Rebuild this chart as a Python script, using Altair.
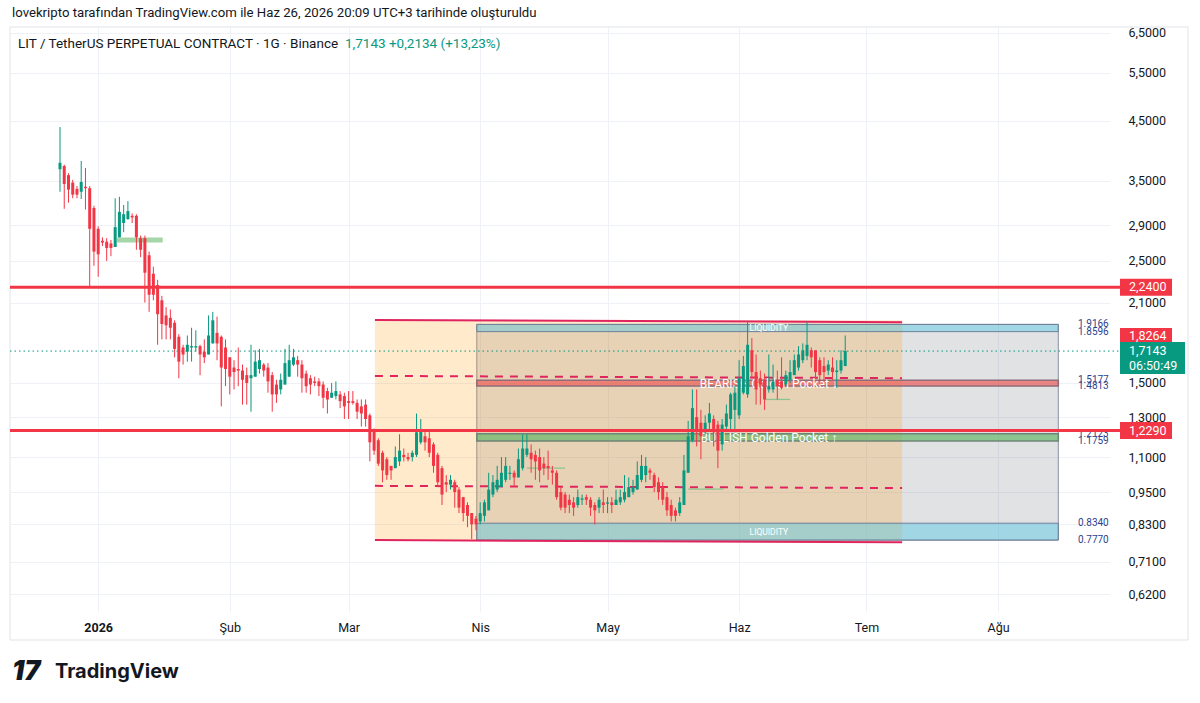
import math
import altair as alt
import pandas as pd

# ---------------- data ----------------
first_day = -9  # Dec 23, 2025 (days counted from Jan 1, 2026)
opens = [3.67, 3.72, 3.58, 3.47, 3.38, 3.34, 3.41, 3.39, 3.12, 2.86,
         2.72, 2.71, 2.69, 2.65, 2.76, 2.93, 2.98, 3.02, 3.02, 2.75,
         2.75, 2.56, 2.37, 2.26, 2.12, 1.99, 1.97, 1.93, 1.82, 1.74,
         1.71, 1.74, 1.74, 1.75, 1.71, 1.69, 1.77, 1.85, 1.82, 1.74,
         1.67, 1.60, 1.59, 1.58, 1.55, 1.53, 1.54, 1.59, 1.62, 1.60,
         1.55, 1.49, 1.46, 1.49, 1.54, 1.62, 1.65, 1.62, 1.56, 1.53,
         1.51, 1.51, 1.49, 1.45, 1.41, 1.42, 1.43, 1.42, 1.39, 1.39,
         1.38, 1.36, 1.37,
         1.31, 1.23, 1.18, 1.12, 1.09, 1.06, 1.05, 1.08, 1.11, 1.10,
         1.10, 1.11, 1.17, 1.20, 1.19, 1.16, 1.11, 1.05, 0.99, 0.98,
         0.99, 0.96, 0.93, 0.90, 0.87, 0.85, 0.84, 0.86, 0.88, 0.94,
         0.96, 0.97, 1.00, 1.025, 1.03, 1.01, 1.05, 1.11, 1.12, 1.11,
         1.10, 1.07, 1.06, 1.04, 1.03, 0.95, 0.94, 0.92, 0.91, 0.90,
         0.92, 0.93, 0.92, 0.90, 0.89, 0.91, 0.905, 0.91, 0.90, 0.91,
         0.92, 0.93, 0.95, 0.96, 1.00, 1.02, 1.04, 1.02, 0.99, 0.97,
         0.93, 0.90, 0.88, 0.87, 0.90, 1.03, 1.18, 1.30, 1.27, 1.22,
         1.27, 1.29, 1.26, 1.16, 1.25, 1.29, 1.34, 1.31, 1.44, 1.43,
         1.72, 1.57, 1.53, 1.52, 1.46, 1.46, 1.52, 1.51, 1.49, 1.52,
         1.55, 1.60, 1.65, 1.68, 1.72, 1.72, 1.65, 1.61, 1.58, 1.60,
         1.57, 1.58, 1.61]
highs = [4.38, 3.74, 3.61, 3.51, 3.42, 3.80, 3.69, 3.42, 3.15, 2.89,
         2.76, 2.75, 2.73, 3.25, 3.27, 3.16, 3.21, 3.05, 3.04, 2.78,
         2.78, 2.60, 2.44, 2.31, 2.16, 2.06, 2.04, 1.95, 1.84, 1.76,
         1.83, 1.89, 1.87, 1.76, 1.80, 1.99, 2.02, 1.98, 1.83, 1.80,
         1.67, 1.65, 1.74, 1.62, 1.60, 1.76, 1.72, 1.73, 1.63, 1.63,
         1.57, 1.52, 1.56, 1.73, 1.76, 1.73, 1.68, 1.65, 1.58, 1.55,
         1.54, 1.53, 1.51, 1.47, 1.50, 1.51, 1.45, 1.44, 1.45, 1.45,
         1.40, 1.40, 1.40,
         1.32, 1.24, 1.19, 1.13, 1.10, 1.06, 1.15, 1.21, 1.14, 1.12,
         1.13, 1.32, 1.29, 1.23, 1.23, 1.17, 1.12, 1.06, 1.02, 1.02,
         1.00, 0.97, 0.93, 0.91, 0.87, 0.86, 0.91, 0.92, 1.03, 1.02,
         1.06, 1.10, 1.10, 1.06, 1.04, 1.14, 1.21, 1.21, 1.16, 1.13,
         1.14, 1.10, 1.13, 1.06, 1.04, 0.97, 0.95, 0.94, 0.93, 0.96,
         0.94, 0.94, 0.93, 0.91, 0.93, 0.96, 0.93, 0.93, 0.96, 0.96,
         1.02, 1.01, 1.00, 1.08, 1.11, 1.10, 1.05, 1.03, 1.01, 0.99,
         0.95, 0.92, 0.89, 0.93, 1.11, 1.28, 1.46, 1.46, 1.34, 1.31,
         1.38, 1.31, 1.28, 1.29, 1.37, 1.44, 1.48, 1.65, 1.68, 1.94,
         1.81, 1.69, 1.58, 1.56, 1.69, 1.62, 1.58, 1.67, 1.58, 1.65,
         1.69, 1.75, 1.77, 1.94, 1.74, 1.72, 1.67, 1.67, 1.65, 1.67,
         1.65, 1.72, 1.83]
lows = [3.34, 3.11, 3.19, 3.25, 3.25, 3.24, 3.10, 2.24, 2.45, 2.34,
        2.66, 2.50, 2.55, 2.65, 2.76, 2.82, 2.97, 2.93, 2.62, 2.54,
        2.10, 2.02, 2.12, 1.76, 1.80, 1.80, 1.80, 1.67, 1.53, 1.62,
        1.64, 1.64, 1.71, 1.55, 1.63, 1.69, 1.77, 1.65, 1.36, 1.48,
        1.43, 1.46, 1.48, 1.37, 1.37, 1.33, 1.54, 1.56, 1.54, 1.44,
        1.33, 1.38, 1.43, 1.49, 1.54, 1.61, 1.54, 1.44, 1.44, 1.43,
        1.48, 1.42, 1.35, 1.32, 1.41, 1.40, 1.35, 1.29, 1.29, 1.37,
        1.29, 1.25, 1.25,
        1.08, 1.11, 1.06, 0.99, 1.00, 1.00, 1.05, 1.06, 1.08, 1.08,
        1.08, 1.10, 1.16, 1.13, 1.10, 1.03, 0.97, 0.90, 0.95, 0.96,
        0.89, 0.87, 0.84, 0.82, 0.78, 0.81, 0.83, 0.84, 0.88, 0.93,
        0.95, 0.97, 0.99, 1.00, 0.97, 1.01, 1.04, 1.10, 1.03, 1.00,
        0.99, 1.02, 1.00, 0.98, 0.92, 0.88, 0.87, 0.87, 0.86, 0.89,
        0.90, 0.90, 0.86, 0.83, 0.87, 0.87, 0.87, 0.87, 0.90, 0.90,
        0.91, 0.93, 0.94, 0.96, 0.99, 0.99, 1.00, 0.95, 0.92, 0.90,
        0.86, 0.84, 0.84, 0.86, 0.90, 1.03, 1.17, 1.15, 1.09, 1.21,
        1.23, 1.15, 1.05, 1.13, 1.23, 1.23, 1.22, 1.29, 1.43, 1.41,
        1.53, 1.37, 1.37, 1.34, 1.44, 1.44, 1.40, 1.46, 1.48, 1.50,
        1.55, 1.58, 1.63, 1.65, 1.60, 1.53, 1.49, 1.51, 1.55, 1.52,
        1.47, 1.56, 1.61]
closes = [3.77, 3.45, 3.37, 3.30, 3.30, 3.48, 3.39, 2.86, 2.60, 2.57,
          2.70, 2.64, 2.64, 2.88, 3.07, 3.04, 3.08, 3.00, 2.76, 2.62,
          2.38, 2.17, 2.17, 2.00, 1.92, 1.91, 1.89, 1.73, 1.64, 1.69,
          1.76, 1.75, 1.75, 1.69, 1.67, 1.83, 1.95, 1.77, 1.60, 1.59,
          1.54, 1.57, 1.58, 1.52, 1.50, 1.55, 1.64, 1.65, 1.58, 1.51,
          1.43, 1.43, 1.52, 1.63, 1.65, 1.67, 1.62, 1.53, 1.48, 1.49,
          1.50, 1.48, 1.41, 1.40, 1.44, 1.45, 1.39, 1.36, 1.38, 1.38,
          1.33, 1.32, 1.29,
          1.17, 1.13, 1.07, 1.04, 1.02, 1.04, 1.10, 1.13, 1.10, 1.09,
          1.12, 1.22, 1.23, 1.17, 1.12, 1.06, 0.99, 0.94, 0.98, 1.00,
          0.95, 0.89, 0.87, 0.86, 0.83, 0.83, 0.87, 0.91, 0.96, 0.99,
          1.00, 1.03, 1.06, 1.03, 1.01, 1.09, 1.14, 1.14, 1.09, 1.08,
          1.04, 1.05, 1.05, 1.03, 0.93, 0.89, 0.89, 0.90, 0.89, 0.93,
          0.925, 0.92, 0.89, 0.88, 0.92, 0.90, 0.91, 0.90, 0.92, 0.93,
          0.95, 0.97, 0.97, 1.02, 1.06, 1.06, 1.03, 0.97, 0.95, 0.92,
          0.88, 0.86, 0.86, 0.91, 1.04, 1.20, 1.35, 1.22, 1.20, 1.27,
          1.32, 1.22, 1.13, 1.26, 1.32, 1.43, 1.44, 1.53, 1.61, 1.76,
          1.57, 1.46, 1.49, 1.40, 1.48, 1.51, 1.48, 1.47, 1.55, 1.57,
          1.65, 1.69, 1.72, 1.76, 1.67, 1.57, 1.55, 1.57, 1.62, 1.57,
          1.58, 1.65, 1.7143]

month_ticks = [0, 31, 59, 90, 120, 151, 181, 212]
month_names = ["2026", "Şub", "Mar", "Nis", "May", "Haz", "Tem", "Ağu"]
price_ticks = [0.62, 0.71, 0.83, 0.95, 1.1, 1.3, 1.5, 2.1, 2.5, 2.9, 3.5, 4.5, 5.5, 6.5]

key_levels = [2.24, 1.229]
last_price = 1.7143
tag_high = 1.8264

orange_days = [65.2, 189.4]
orange_prices = [0.776, 1.95]
zone_days = [89.2, 226.2]
zone_prices = [0.777, 1.9166]
liq_top = [1.8596, 1.9166]
liq_bottom = [0.777, 0.834]
bear_pocket = [1.4813, 1.5177]
bull_pocket = [1.1759, 1.2123]
channel_top = [1.953, 1.935]
channel_bottom = [0.777, 0.770]
dash_upper = [1.545, 1.53]
dash_lower = [0.975, 0.966]
label_center_day = 158

green_zone_days = [4.4, 15.2]
green_zone_price = 2.73
thin_lines = [(101, 110, 1.05), (139, 147.3, 0.962), (157, 163, 1.40)]

zone_labels = ["1.9166", "1.8596", "1.5177", "1.4813", "1.2123", "1.1759", "0.8340", "0.7770"]
zone_label_prices = [1.9166, 1.8596, 1.5177, 1.4813, 1.2123, 1.1759, 0.834, 0.777]

# ---------------- scales / axes ----------------
XS = alt.Scale(domain=[-19.6, 237.2], nice=False, zero=False)
YS = alt.Scale(type="log", domain=[0.575, 6.657], nice=False)
FONT = "Roboto"
RED = "#f23645"
GREEN = "#089981"
CRIMSON = "#e0245e"

label_expr_x = ("[" + ",".join("'%s'" % m for m in month_names) + "][indexof(["
                + ",".join(str(t) for t in month_ticks) + "], datum.value)]")

X_AXIS = alt.Axis(values=month_ticks, labelExpr=label_expr_x, grid=True, gridColor="#eef1f6",
                  domain=False, ticks=False, labelPadding=9, labelFontSize=12.5, labelColor="#131722",
                  labelFont=FONT, title=None,
                  labelFontWeight={"condition": {"test": "datum.value === 0", "value": "bold"},
                                   "value": "normal"})
Y_AXIS = alt.Axis(orient="right", values=price_ticks,
                  labelExpr="replace(format(datum.value, '.4f'), '.', ',')",
                  grid=True, gridColor="#eef1f6", domain=False, ticks=False, labelAlign="left",
                  labelPadding=18, labelFontSize=12.5, labelColor="#131722", labelFont=FONT, title=None)


def X(f):
    return alt.X(f, type="quantitative", scale=XS, axis=X_AXIS)


def Y(f):
    return alt.Y(f, type="quantitative", scale=YS, axis=Y_AXIS)


candles = pd.DataFrame({
    "d": list(range(first_day, first_day + len(closes))),
    "o": opens, "h": highs, "l": lows, "c": closes,
})
candles["dir"] = ["up" if c >= o else "down" for o, c in zip(candles.o, candles.c)]
ccol = alt.Color("dir:N", scale=alt.Scale(domain=["up", "down"], range=[GREEN, RED]), legend=None)


def rect(x0, x1, y0, y1, **kw):
    df = pd.DataFrame({"x0": [x0], "x1": [x1], "y0": [y0], "y1": [y1]})
    return alt.Chart(df).mark_rect(**kw).encode(x=X("x0"), x2=alt.X2("x1"), y=Y("y0"), y2=alt.Y2("y1"))


def seg(x0, x1, y0, y1, **kw):
    df = pd.DataFrame({"x": [x0, x1], "y": [y0, y1]})
    return alt.Chart(df).mark_line(**kw).encode(x=X("x"), y=Y("y"))


def hline(price, x0, x1, **kw):
    df = pd.DataFrame({"p": [price]})
    return alt.Chart(df).mark_rule(**kw).encode(y=Y("p"), x=alt.value(x0), x2=alt.value(x1))


def ptext(text, day, price, **kw):
    df = pd.DataFrame({"t": [text], "d": [day], "p": [price]})
    return alt.Chart(df).mark_text(**kw).encode(x=X("d"), y=Y("p"), text="t:N")


def vtext(text, x, y, **kw):
    df = pd.DataFrame({"t": [text]})
    return alt.Chart(df).mark_text(**kw).encode(x=alt.value(x), y=alt.value(y), text="t:N")


layers = []
# candle layer first so the axes come from it
wicks = alt.Chart(candles).mark_rule(strokeWidth=1).encode(x=X("d"), y=Y("l"), y2=alt.Y2("h"), color=ccol)
bodies = alt.Chart(candles).mark_bar(size=3).encode(x=X("d"), y=Y("o"), y2=alt.Y2("c"), color=ccol)

# frame
layers.append(alt.Chart(pd.DataFrame({"t": [0]})).mark_rect(fill=None, stroke="#e0e3eb", strokeWidth=1).encode(
    x=alt.value(0), x2=alt.value(1178), y=alt.value(0), y2=alt.value(613)))

# boxes
layers.append(rect(zone_days[0], zone_days[1], zone_prices[0], zone_prices[1],
                   fill="#787b86", fillOpacity=0.22, stroke="#8a92a6", strokeWidth=1))
layers.append(rect(orange_days[0], orange_days[1], orange_prices[0], orange_prices[1],
                   fill="#ff9800", fillOpacity=0.2))
layers.append(rect(zone_days[0], zone_days[1], liq_top[0], liq_top[1],
                   fill="#55c9e4", fillOpacity=0.45, stroke="#6f7f99", strokeWidth=1))
layers.append(rect(zone_days[0], zone_days[1], liq_bottom[0], liq_bottom[1],
                   fill="#55c9e4", fillOpacity=0.45, stroke="#6f7f99", strokeWidth=1))
layers.append(rect(zone_days[0], zone_days[1], bear_pocket[0], bear_pocket[1],
                   fill="#ef5350", fillOpacity=0.65, stroke="#8d6e7a", strokeWidth=1.5))
layers.append(rect(zone_days[0], zone_days[1], bull_pocket[0], bull_pocket[1],
                   fill="#5fb564", fillOpacity=0.65, stroke="#6f8577", strokeWidth=1.5))

# channel lines
layers.append(seg(orange_days[0], orange_days[1], channel_top[0], channel_top[1], color=CRIMSON, strokeWidth=2))
layers.append(seg(orange_days[0], orange_days[1], channel_bottom[0], channel_bottom[1], color=CRIMSON, strokeWidth=2))
layers.append(seg(orange_days[0], orange_days[1], dash_upper[0], dash_upper[1], color=CRIMSON, strokeWidth=2,
                  strokeDash=[8, 7]))
layers.append(seg(orange_days[0], orange_days[1], dash_lower[0], dash_lower[1], color=CRIMSON, strokeWidth=2,
                  strokeDash=[8, 7]))

# small indicator lines
layers.append(seg(green_zone_days[0], green_zone_days[1], green_zone_price, green_zone_price,
                  color="#a5d6a7", strokeWidth=5))
for a, b, p in thin_lines:
    layers.append(seg(a, b, p, p, color="#8bc48f", strokeWidth=1.3))

# zone texts
liq_t = math.sqrt(liq_top[0] * liq_top[1])
liq_b = math.sqrt(liq_bottom[0] * liq_bottom[1])
layers.append(ptext("LIQUIDITY", label_center_day, liq_t, color="white", fontSize=8.5, font=FONT))
layers.append(ptext("LIQUIDITY", label_center_day, liq_b, color="white", fontSize=8.5, font=FONT))
layers.append(ptext("BEARISH Golden Pocket ↓", label_center_day, math.sqrt(bear_pocket[0] * bear_pocket[1]),
                    color="white", fontSize=12, font=FONT, dy=1))
layers.append(ptext("BULLISH Golden Pocket ↑", label_center_day, math.sqrt(bull_pocket[0] * bull_pocket[1]),
                    color="white", fontSize=12, font=FONT, dy=1))

# right zone value labels
zl = pd.DataFrame({"t": zone_labels, "p": zone_label_prices})
layers.append(alt.Chart(zl).mark_text(align="left", color="#2d3f8c", fontSize=10, font=FONT).encode(
    x=alt.value(1068), y=Y("p"), text="t:N"))

# dotted last price line
layers.append(hline(last_price, 0, 1110, color=GREEN, strokeDash=[1.5, 3], strokeWidth=1))

# candles
layers.append(wicks)
layers.append(bodies)

# key horizontal levels
for lv in key_levels:
    layers.append(hline(lv, 0, 1110, color=RED, strokeWidth=3))

# price tags
layers.append(hline(key_levels[0], 1110, 1162, color=RED, strokeWidth=17, strokeCap="butt"))
layers.append(hline(key_levels[1], 1110, 1162, color=RED, strokeWidth=17, strokeCap="butt"))
layers.append(hline(tag_high, 1110, 1162, color=RED, strokeWidth=16, strokeCap="butt"))
layers.append(hline(last_price, 1110, 1175, color=GREEN, strokeWidth=32, strokeCap="butt", yOffset=7))
for p, t in [(key_levels[0], "2,2400"), (key_levels[1], "1,2290"), (tag_high, "1,8264"), (last_price, "1,7143")]:
    layers.append(alt.Chart(pd.DataFrame({"t": [t], "p": [p]})).mark_text(
        align="left", color="white", fontSize=12.5, font=FONT).encode(x=alt.value(1119), y=Y("p"), text="t:N"))
layers.append(alt.Chart(pd.DataFrame({"t": ["06:50:49"], "p": [last_price]})).mark_text(
    align="left", color="white", fontSize=12.5, font=FONT, dy=15).encode(x=alt.value(1119), y=Y("p"), text="t:N"))

# header & footer texts
layers.append(vtext("lovekripto tarafından TradingView.com ile Haz 26, 2026 20:09 UTC+3 tarihinde oluşturuldu",
                    2, -14, align="left", fontSize=13.2, color="#131722", font=FONT))
layers.append(vtext("LIT / TetherUS PERPETUAL CONTRACT · 1G · Binance", 8, 17, align="left", fontSize=13.5,
                    color="#131722", font=FONT))
layers.append(vtext("1,7143  +0,2134 (+13,23%)", 335, 17, align="left", fontSize=13.5, color=GREEN, font=FONT))
layers.append(vtext("17", 2, 645, align="left", fontSize=27, fontWeight=900, color="#131722", font="Inter",
                    fontStyle="italic"))
layers.append(vtext("TradingView", 45, 645, align="left", fontSize=20, fontWeight="bold", color="#131722",
                    font="Inter"))

chart = alt.layer(*layers).properties(
    width=1100, height=585,
    padding={"left": 10, "top": 27, "right": 90, "bottom": 91},
    autosize=alt.AutoSizeParams(type="none"),
    background="white",
).configure_view(strokeWidth=0)

chart.save("out.html", embed_options={"renderer": "svg", "actions": False})
